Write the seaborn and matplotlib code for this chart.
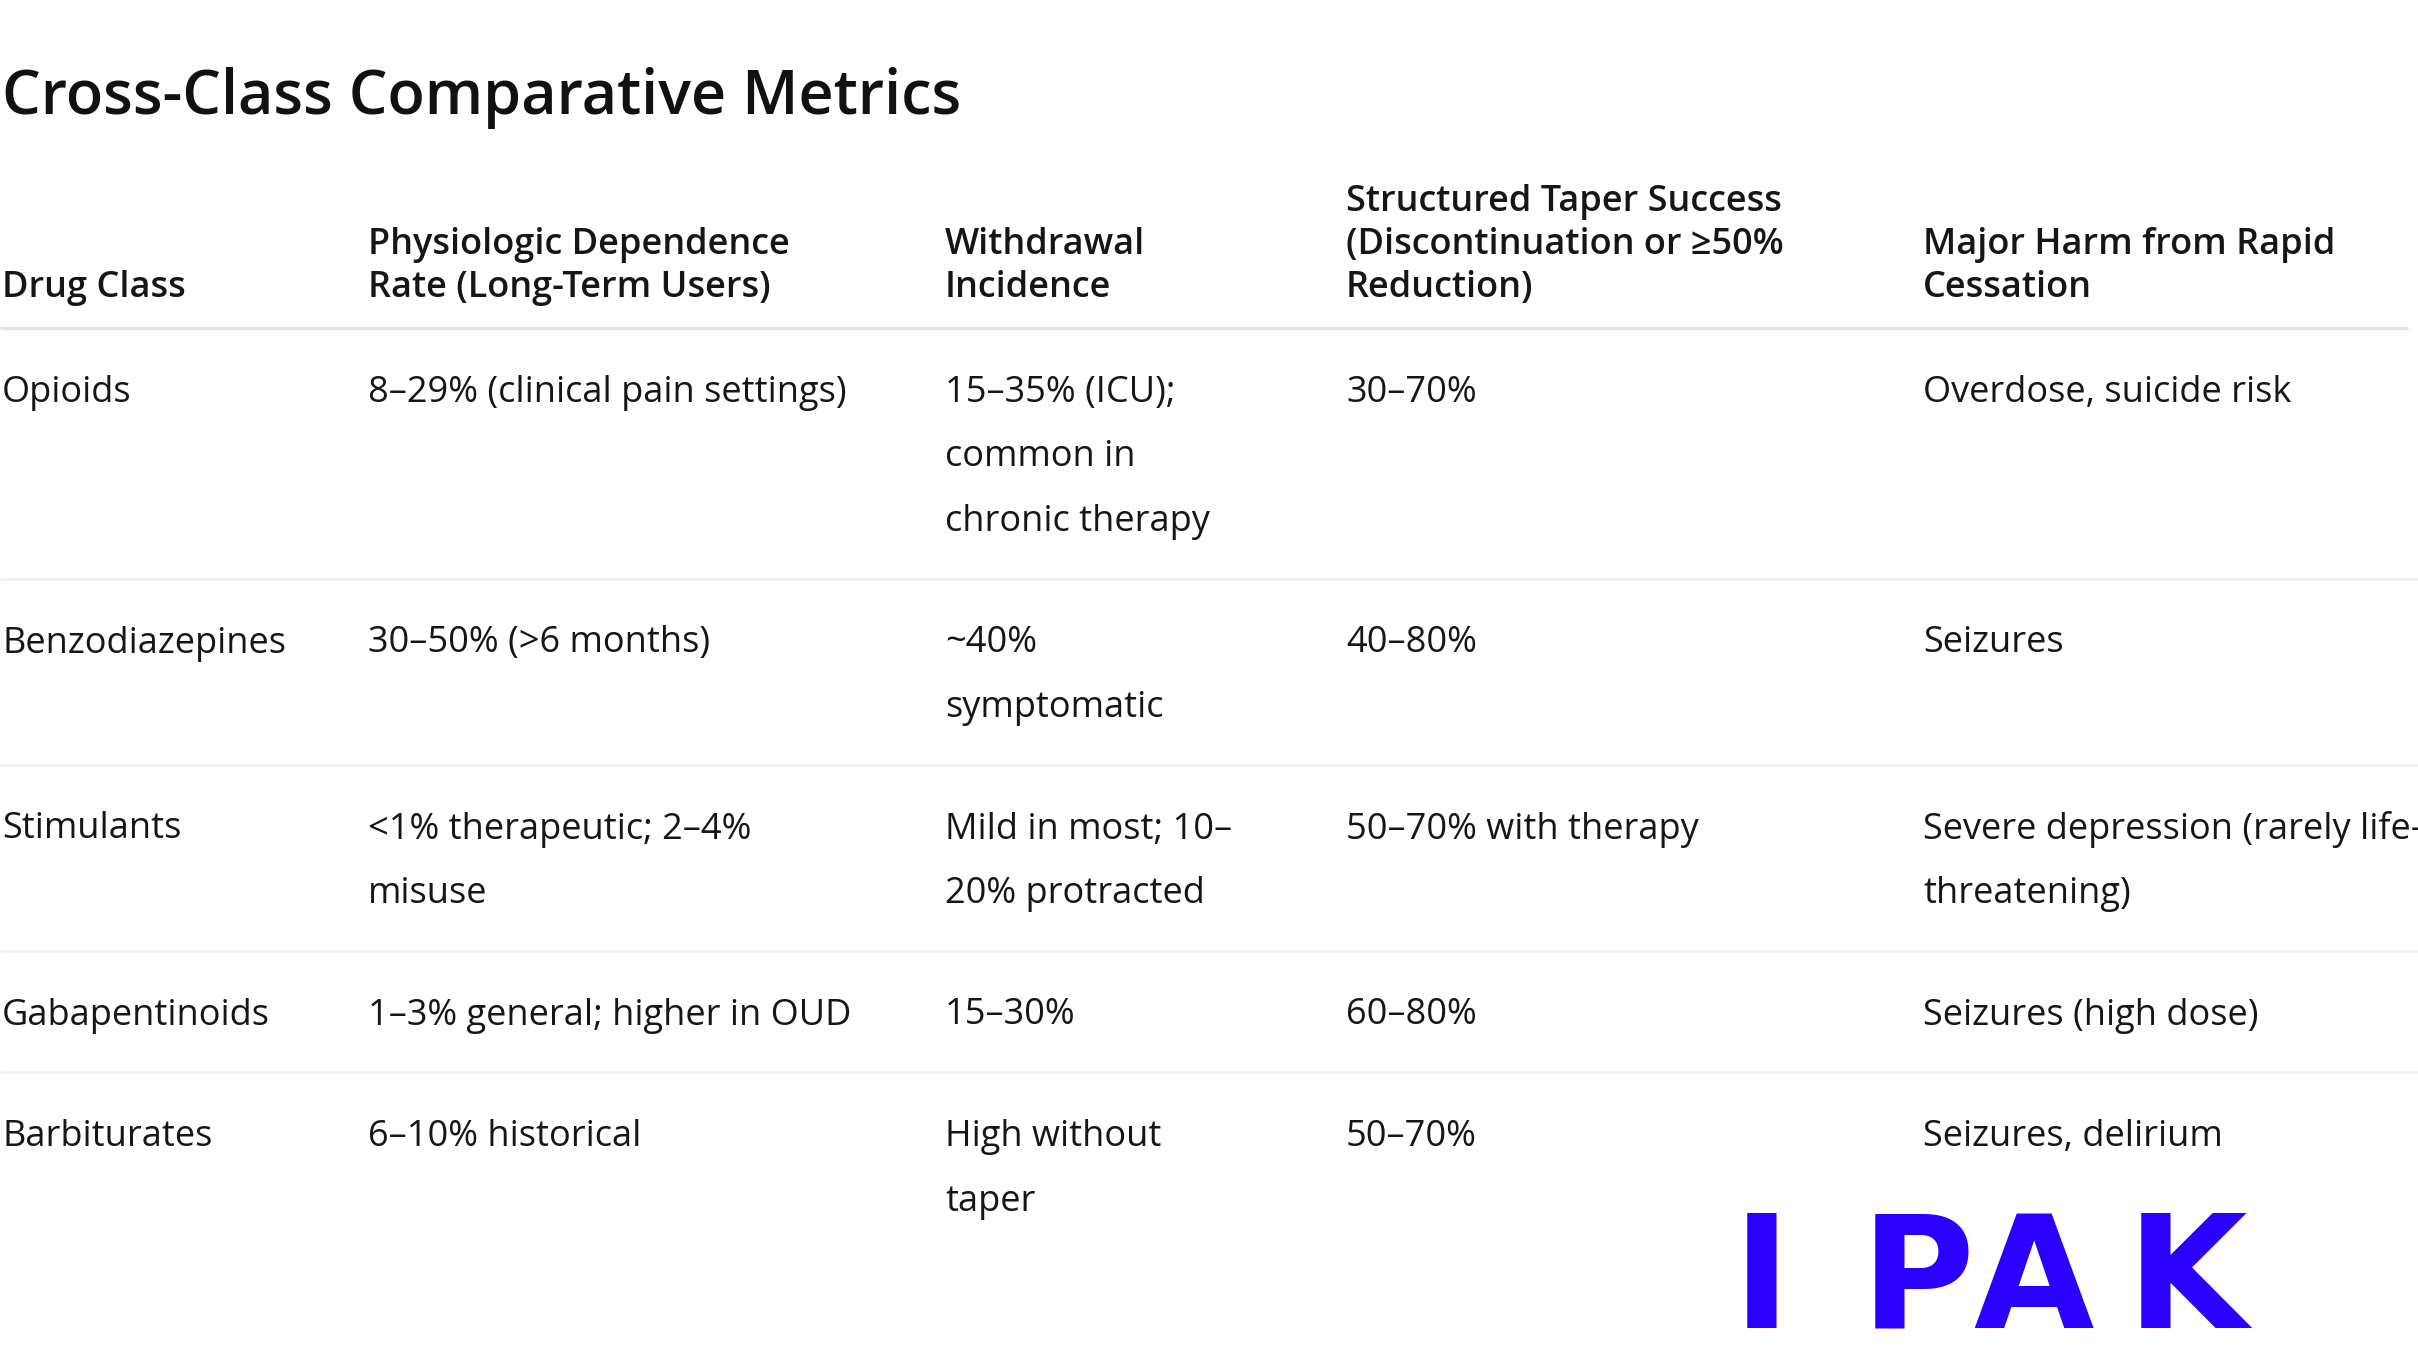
import matplotlib
matplotlib.use("Agg")
import matplotlib.pyplot as plt
import seaborn as sns

#####################################################################
# Data
#####################################################################
title = "Cross-Class Comparative Metrics"

headers = ["Drug Class",
           "Physiologic Dependence\nRate (Long-Term Users)",
           "Withdrawal\nIncidence",
           "Structured Taper Success\n(Discontinuation or \u226550%\nReduction)",
           "Major Harm from Rapid\nCessation"]

drug_class = ["Opioids", "Benzodiazepines", "Stimulants", "Gabapentinoids", "Barbiturates"]
dependence = ["8\u201329% (clinical pain settings)",
              "30\u201350% (>6 months)",
              "<1% therapeutic; 2\u20134%\nmisuse",
              "1\u20133% general; higher in OUD",
              "6\u201310% historical"]
withdrawal = ["15\u201335% (ICU);\ncommon in\nchronic therapy",
              "~40%\nsymptomatic",
              "Mild in most; 10\u2013\n20% protracted",
              "15\u201330%",
              "High without\ntaper"]
taper = ["30\u201370%", "40\u201380%", "50\u201370% with therapy", "60\u201380%", "50\u201370%"]
harm = ["Overdose, suicide risk",
        "Seizures",
        "Severe depression (rarely life-\nthreatening)",
        "Seizures (high dose)",
        "Seizures, delirium"]

logo_letters = ["I", "P", "A", "K"]

#####################################################################
# Style
#####################################################################
sns.set_theme(style="white")
plt.rcParams['font.family'] = ['Open Sans', 'DejaVu Sans']

W, H = 2418, 1366
TXT = "#161616"
col_x = [2, 368, 945, 1346, 1923]

header_base = 297      # baseline of last header line
header_lh = 43
header_rule = 328
pad = 28.5
body_lh = 64.5
first_base = 74
FS = 26

fig = plt.figure(figsize=(W / 100, H / 100), dpi=100)
ax = fig.add_axes([0, 0, 1, 1])
ax.set_xlim(0, W)
ax.set_ylim(H, 0)
ax.axis("off")

# title
ax.text(2, 114, title, fontsize=44, fontweight="semibold", color="#111111",
        va="baseline", ha="left")

# header (bottom aligned)
for x, h in zip(col_x, headers):
    lines = h.split("\n")
    for i, ln in enumerate(lines):
        y = header_base - (len(lines) - 1 - i) * header_lh
        ax.text(x, y, ln, fontsize=FS, fontweight="semibold", color=TXT,
                va="baseline", ha="left")
ax.hlines(header_rule, 0, 2408, color="#e2e2e2", lw=2.5)

# body
columns = [drug_class, dependence, withdrawal, taper, harm]
top = header_rule
for r in range(len(drug_class)):
    cells = [c[r] for c in columns]
    nlines = max(len(c.split("\n")) for c in cells)
    for x, cell in zip(col_x, cells):
        for i, ln in enumerate(cell.split("\n")):
            ax.text(x, top + first_base + i * body_lh, ln, fontsize=FS,
                    color=TXT, va="baseline", ha="left")
    top = top + 2 * pad + nlines * body_lh
    if r < len(drug_class) - 1:
        ax.hlines(top, 0, W, color="#f0f0f0", lw=2)

# logo
logo_x = [1762, 1918, 2033, 2187]
for x, ch in zip(logo_x, logo_letters):
    ax.text(x, 1328, ch, fontsize=112, fontweight="bold", color="#2b00ff",
            family="DejaVu Sans", ha="center", va="baseline")

fig.savefig("out.png", dpi=100, facecolor="white")
